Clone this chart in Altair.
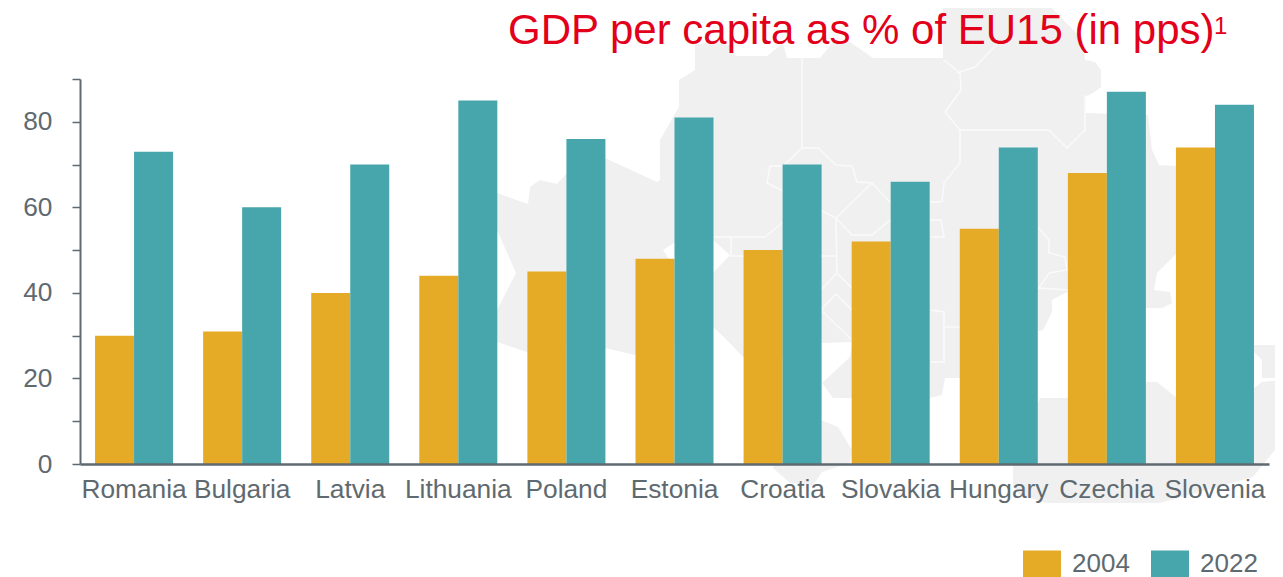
import altair as alt
import pandas as pd

countries = ["Romania", "Bulgaria", "Latvia", "Lithuania", "Poland", "Estonia",
             "Croatia", "Slovakia", "Hungary", "Czechia", "Slovenia"]
values_2004 = [30, 31, 40, 44, 45, 48, 50, 52, 55, 68, 74]
values_2022 = [73, 60, 70, 85, 76, 81, 70, 66, 74, 87, 84]
years = ["2004", "2022"]
year_colors = ["#E5AB27", "#47A6AB"]
y_ticks = [0, 10, 20, 30, 40, 50, 60, 70, 80, 90]
title_text = "GDP per capita as % of EU15 (in pps)"
footnote_mark = ["1"]

# Faint decorative map behind the bars, outlines
land_main = [(679,107),(679,80),(695,70),(695,45),(710,42),(730,45),(736,56),(767,56),(783,43),(787,58),
             (820,58),(833,42),(850,42),(873,58),(943,58),(943,0),(1044,0),(1083,40),(1085,60),(1095,62),
             (1101,70),(1101,87),(1093,93),(1085,97),(1085,113),(1148,115),(1152,150),(1159,165),(1177,166),
             (1177,253),(1157,273),(1154,290),(1170,292),(1172,303),(1162,308),(1100,308),(1067,292),(1052,300),
             (1052,312),(1043,330),(1000,340),(960,378),(945,378),(942,395),(930,398),(852,398),(833,398),
             (822,383),(850,357),(852,342),(821,343),(783,357),(743,357),(727,340),(713,327),(635,355),
             (605,348),(566,345),(527,352),(497,342),(470,335),(497,310),(516,273),(497,230),(462,215),
             (462,180),(497,193),(528,204),(530,187),(540,180),(557,184),(567,173),(605,158),(657,182),
             (660,180),(660,140),(679,107)]
land_foot = [(821,420),(838,427),(852,450),(850,463),(822,472),(813,485),(790,483),(773,468),(780,440),(821,420)]
land_east = [(1013,463),(1013,487),(1020,495),(1047,503),(1160,503),(1253,477),(1283,440),(1283,380),(1262,382),
             (1254,388),(1177,398),(1157,382),(1147,382),(1130,398),(1040,398),(1037,405),(1037,463),(1013,463)]
land_corner = [(1254,345),(1283,345),(1283,378),(1262,378),(1262,360),(1254,352),(1254,345)]
sea_strait = [(730,255),(713,240),(674,243),(663,250),(668,258),(713,273),(730,255)]
borders = [
    [(802,58),(802,148),(818,148),(836,165),(852,166),(857,182),(872,183),(890,202),(941,202)],
    [(802,148),(783,166),(770,166),(767,183),(836,218),(852,235),(872,235),(890,220),(941,220),(944,237),(931,237)],
    [(872,183),(836,218),(837,273),(821,290)],
    [(837,273),(852,288)],
    [(713,237),(765,237),(783,222)],
    [(731,237),(731,256),(783,256)],
    [(821,256),(837,256)],
    [(944,60),(960,73),(961,90),(945,112),(960,130),(1049,130),(1067,148),(1085,130),(1085,95)],
    [(960,130),(960,163),(944,183),(942,202)],
    [(957,73),(975,67),(998,43)],
    [(1039,228),(1049,240),(1049,253),(1065,257),(1067,270),(1049,273),(1039,288),(1068,290)],
    [(931,310),(944,312),(944,362),(931,362)],
    [(944,327),(960,327)],
    [(821,310),(836,294),(852,310)],
    [(821,310),(852,340)],
]


def polygons(rings):
    return alt.InlineData(
        values={"type": "FeatureCollection", "features": [
            {"type": "Feature", "properties": {},
             "geometry": {"type": "Polygon", "coordinates": [[list(p) for p in r]]}} for r in rings]},
        format=alt.DataFormat(property="features", type="json"))


def lines(paths):
    return alt.InlineData(
        values={"type": "FeatureCollection", "features": [
            {"type": "Feature", "properties": {},
             "geometry": {"type": "LineString", "coordinates": [list(p) for p in r]}} for r in paths]},
        format=alt.DataFormat(property="features", type="json"))


INK = "#5F6A70"
RED = "#E2001A"
df = pd.DataFrame({
    "country": countries * 2,
    "year": [years[0]] * len(countries) + [years[1]] * len(countries),
    "value": values_2004 + values_2022,
})

proj = dict(type="identity", scale=1, translate=[-80, -79])
land = alt.Chart(polygons([land_main, land_foot, land_east, land_corner])).mark_geoshape(
    fill="#F0F0F0", stroke="#F0F0F0", strokeWidth=0, clip=False).project(**proj)
sea = alt.Chart(polygons([sea_strait])).mark_geoshape(
    fill="white", stroke="white", strokeWidth=0, clip=False).project(**proj)
edges = alt.Chart(lines(borders)).mark_geoshape(
    filled=False, stroke="#FAFAFA", strokeWidth=1.5, clip=False).project(**proj)

bars = alt.Chart(df).mark_bar(size=39).encode(
    x=alt.X("country:N", sort=countries, title=None,
            scale=alt.Scale(paddingInner=0.278, paddingOuter=0.139),
            axis=alt.Axis(labelAngle=0, labelFontSize=26.3, labelFont="Liberation Sans", labelColor=INK,
                          labelPadding=12, ticks=False, domainColor=INK, domainWidth=2.5, zindex=1,
                          labelOverlap=False, labelFlush=False, labelBound=False, labelLimit=0)),
    xOffset=alt.XOffset("year:N", sort=years),
    y=alt.Y("value:Q", title=None, scale=alt.Scale(domain=[0, 90], nice=False),
            axis=alt.Axis(values=y_ticks, labelExpr="datum.value % 20 == 0 ? datum.label : ''",
                          labelFontSize=26.3, labelFont="Liberation Sans", labelColor=INK, labelPadding=20,
                          tickColor=INK, tickWidth=1.5, tickSize=8, domainColor=INK, domainWidth=2, zindex=1,
                          grid=False, labelOverlap=False, labelBound=False, labelFlush=False)),
    color=alt.Color("year:N", scale=alt.Scale(domain=years, range=year_colors),
                    legend=alt.Legend(title=None, orient="none", legendX=943, legendY=466,
                                      direction="horizontal", columns=2,
                                      symbolType="M-1,-0.74 H1 V0.74 H-1 Z",
                                      symbolSize=1444, symbolStrokeWidth=0, labelFontSize=26,
                                      labelFont="Liberation Sans", labelColor=INK, labelOffset=11,
                                      columnPadding=21, padding=0, symbolOpacity=1)),
)

footnote = alt.Chart(pd.DataFrame({"t": footnote_mark})).mark_text(
    font="Liberation Sans", fontSize=24, color=RED, align="left", baseline="alphabetic", clip=False
).encode(text="t:N", x=alt.value(1134), y=alt.value(-45))

chart = alt.layer(land, sea, edges, bars, footnote).properties(
    width=1189, height=385,
    title=alt.TitleParams(title_text, anchor="start", frame="group", dx=428, offset=-86,
                          baseline="alphabetic", font="Liberation Sans", fontSize=42,
                          fontWeight="normal", color=RED),
    padding={"left": 72, "top": 71, "right": 6, "bottom": 113},
    autosize=alt.AutoSizeParams(type="none"),
    background="white",
).configure_view(stroke=None)

chart.save("out.html", embed_options={"renderer": "svg", "actions": False})
